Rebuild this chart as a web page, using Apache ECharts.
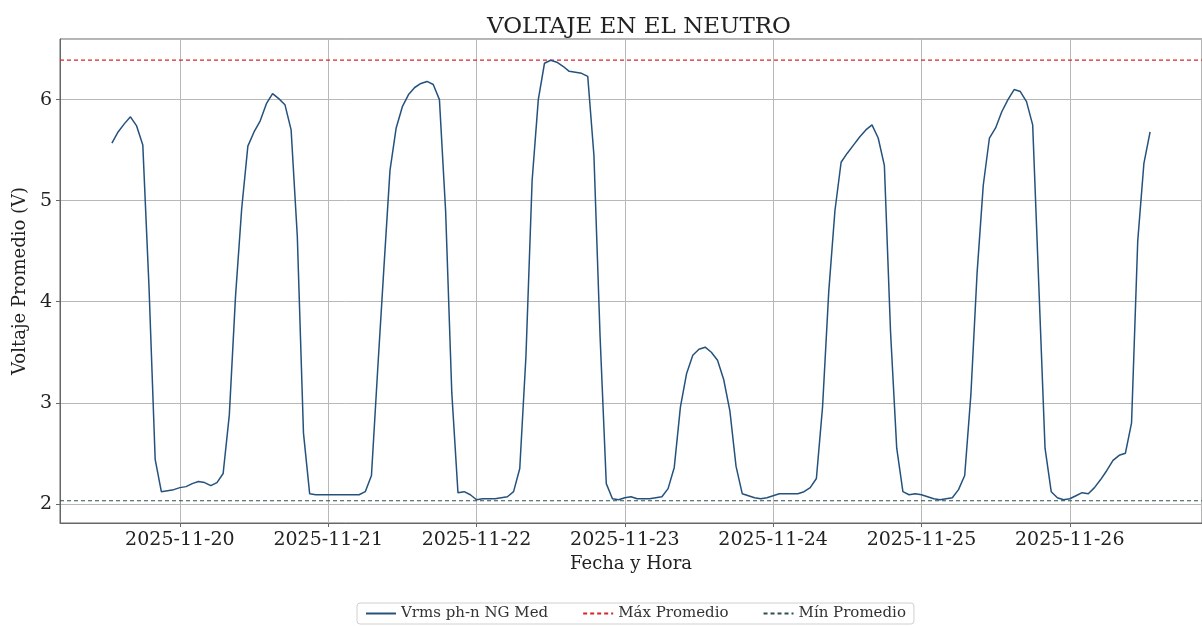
<!DOCTYPE html>
<html>
<head>
<meta charset="utf-8">
<script src="https://cdn.jsdelivr.net/npm/echarts@6/dist/echarts.min.js"></script>
<style>
  html, body { margin: 0; padding: 0; background: #fff; }
  #chart { width: 1202px; height: 626px; }
</style>
</head>
<body>
<div id="chart"></div>
<script>
// hourly readings, first one at 2025-11-19 13:00 (UTC)
const startTime = Date.UTC(2025, 10, 19, 13)
const hourMs = 3600 * 1000
const vrmsValues = [
  // 11-19 13:00 .. 23:00
  5.57, 5.68, 5.76, 5.83, 5.74, 5.55, 4.15, 2.44, 2.12, 2.13, 2.14,
  // 11-20
  2.16, 2.17, 2.20, 2.22, 2.21, 2.18, 2.21, 2.30, 2.88, 4.05, 4.92, 5.54,
  5.68, 5.79, 5.96, 6.06, 6.01, 5.95, 5.70, 4.65, 2.70, 2.10, 2.09, 2.09,
  // 11-21
  2.09, 2.09, 2.09, 2.09, 2.09, 2.09, 2.12, 2.28, 3.32, 4.32, 5.30, 5.72,
  5.93, 6.05, 6.12, 6.16, 6.18, 6.15, 6.00, 4.90, 3.10, 2.11, 2.12, 2.09,
  // 11-22
  2.04, 2.05, 2.05, 2.05, 2.06, 2.07, 2.12, 2.35, 3.46, 5.20, 6.00, 6.36,
  6.39, 6.37, 6.33, 6.28, 6.27, 6.26, 6.23, 5.45, 3.65, 2.20, 2.05, 2.04,
  // 11-23
  2.06, 2.07, 2.05, 2.05, 2.05, 2.06, 2.07, 2.15, 2.36, 2.96, 3.29, 3.47,
  3.53, 3.55, 3.50, 3.42, 3.23, 2.92, 2.37, 2.10, 2.08, 2.06, 2.05, 2.06,
  // 11-24
  2.08, 2.10, 2.10, 2.10, 2.10, 2.12, 2.16, 2.25, 2.96, 4.10, 4.90, 5.38,
  5.47, 5.55, 5.63, 5.70, 5.75, 5.62, 5.35, 3.70, 2.55, 2.12, 2.09, 2.10,
  // 11-25
  2.09, 2.07, 2.05, 2.04, 2.05, 2.06, 2.14, 2.28, 3.08, 4.28, 5.15, 5.62,
  5.72, 5.88, 6.00, 6.10, 6.08, 5.98, 5.75, 4.15, 2.55, 2.12, 2.06, 2.04,
  // 11-26 00:00 .. 13:00
  2.05, 2.08, 2.11, 2.10, 2.16, 2.24, 2.33, 2.43, 2.48, 2.50, 2.80, 4.60,
  5.37, 5.68
]
const maxPromedio = 6.39
const minPromedio = 2.03
const yTicks = [2, 3, 4, 5, 6]

const seriesNames = ['Vrms ph-n NG Med', 'Máx Promedio', 'Mín Promedio']

const chart = echarts.init(document.getElementById('chart'))

const vrmsData = vrmsValues.map((v, i) => [startTime + i * hourMs, v])
const endTime = startTime + (vrmsValues.length - 1) * hourMs
const pad = (endTime - startTime) * 0.05
const xMin = startTime - pad
const xMax = endTime + pad

const font = 'DejaVu Serif'

const option = {
  useUTC: true,
  animation: false,
  backgroundColor: '#fff',
  title: {
    text: 'VOLTAJE EN EL NEUTRO',
    left: 634,
    textAlign: 'center',
    top: 11,
    textStyle: {
      fontFamily: font,
      fontWeight: 'normal',
      fontSize: 23,
      color: '#222'
    }
  },
  legend: {
    data: seriesNames,
    left: 357,
    top: 603,
    itemGap: 34,
    itemWidth: 30,
    itemHeight: 12,
    padding: [3, 8],
    borderColor: '#d0d0d0',
    borderWidth: 1,
    borderRadius: 3,
    itemStyle: { opacity: 0 },
    textStyle: {
      fontFamily: font,
      fontSize: 15,
      color: '#333'
    }
  },
  grid: {
    left: 60,
    top: 39,
    right: -7,
    bottom: 103,
    show: true,
    borderColor: '#666',
    borderWidth: 1
  },
  xAxis: {
    type: 'time',
    min: xMin,
    max: xMax,
    minInterval: 24 * hourMs,
    maxInterval: 24 * hourMs,
    name: 'Fecha y Hora',
    nameLocation: 'middle',
    nameGap: 30,
    nameTextStyle: {
      fontFamily: font,
      fontSize: 18,
      color: '#222'
    },
    axisLine: { lineStyle: { color: '#666' } },
    axisTick: { show: true, length: 4, lineStyle: { color: '#666' } },
    axisLabel: {
      fontFamily: font,
      fontSize: 19,
      color: '#222',
      margin: 8,
      showMinLabel: false,
      showMaxLabel: false,
      hideOverlap: false,
      formatter: '{yyyy}-{MM}-{dd}'
    },
    splitLine: { show: true, lineStyle: { color: '#b8b8b8', width: 1 } }
  },
  yAxis: {
    type: 'value',
    min: 1.81,
    max: 6.6,
    splitNumber: 5,
    name: 'Voltaje Promedio (V)',
    nameLocation: 'middle',
    nameGap: 28,
    nameTextStyle: {
      fontFamily: font,
      fontSize: 18,
      color: '#222'
    },
    axisLine: { show: true, lineStyle: { color: '#666' } },
    axisTick: { show: true, length: 4, lineStyle: { color: '#666' } },
    axisLabel: {
      fontFamily: font,
      fontSize: 19,
      color: '#222',
      margin: 8,
      showMinLabel: false,
      showMaxLabel: false,
      formatter: v => (yTicks.includes(v) ? String(v) : '')
    },
    splitLine: { show: true, lineStyle: { color: '#b8b8b8', width: 1 } }
  },
  series: [
    {
      name: seriesNames[0],
      type: 'line',
      symbol: 'none',
      data: vrmsData,
      lineStyle: { color: '#24527d', width: 1.5 },
      itemStyle: { color: '#24527d' },
      z: 3
    },
    {
      name: seriesNames[1],
      type: 'line',
      symbol: 'none',
      data: [[xMin, maxPromedio], [xMax, maxPromedio]],
      lineStyle: { color: '#d62728', width: 1.2, type: [4, 3] },
      itemStyle: { color: '#d62728' },
      z: 2
    },
    {
      name: seriesNames[2],
      type: 'line',
      symbol: 'none',
      data: [[xMin, minPromedio], [xMax, minPromedio]],
      lineStyle: { color: '#2f4f4f', width: 1.2, type: [4, 3] },
      itemStyle: { color: '#2f4f4f' },
      z: 2
    }
  ]
}

chart.setOption(option)
</script>
</body>
</html>
